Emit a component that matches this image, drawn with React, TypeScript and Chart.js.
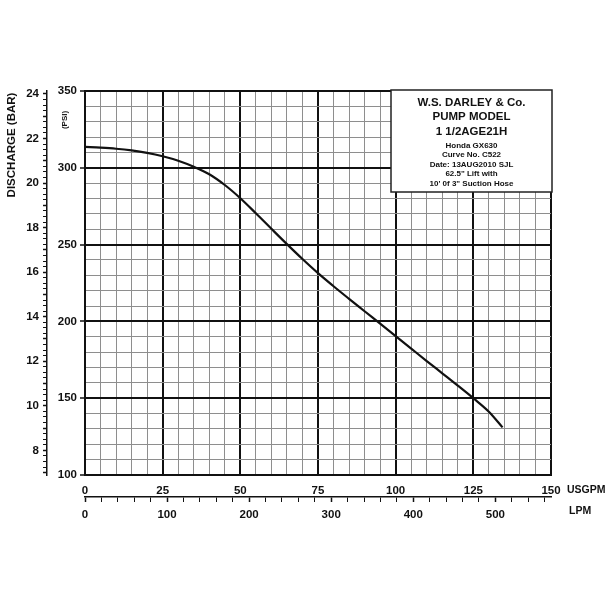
import React, { useEffect, useRef } from "react";
import { Chart, registerables } from "chart.js";

Chart.register(...registerables);

// ---- data ----
const flowUsgpm = [0, 5, 10, 15, 20, 25, 30, 35, 40, 45, 50, 55, 60, 65, 70, 75, 80, 85, 90, 95, 100, 105, 110, 115, 120, 125, 130, 134.4];
const pressurePsi = [313.6, 313.1, 312.4, 311.3, 309.7, 307.5, 304.6, 300.7, 295.8, 288.8, 280.2, 270.4, 260.3, 250.3, 240.6, 231.4, 222.9, 214.7, 206.6, 198.5, 190.4, 182.3, 174.2, 166.2, 158.2, 150.0, 141.2, 131.0];

const psiTickLabels = [100, 150, 200, 250, 300, 350];
const barTickLabels = [8, 10, 12, 14, 16, 18, 20, 22, 24];
const usgpmTickLabels = [0, 25, 50, 75, 100, 125, 150];
const lpmTickLabels = [0, 100, 200, 300, 400, 500];

const titleLines = ["W.S. DARLEY & Co.", "PUMP MODEL", "1 1/2AGE21H"];
const noteLines = ["Honda GX630", "Curve No. C522", "Date: 13AUG2010 SJL", '62.5" Lift with', "10' 0f 3\" Suction Hose"];

const PSI_PER_BAR = 14.5038;
const LPM_PER_USGPM = 3.78541;

const FONT = "'Liberation Sans', Arial, Helvetica, sans-serif";
const INK = "#111";
const MINOR = "#8e8e8e";

const annotate = {
  id: "annotate",
  afterDraw(chart: any) {
    const { ctx, chartArea: a } = chart;
    ctx.save();
    // info box
    const bw = 161;
    const bh = 102;
    const bx = a.right + 1 - bw;
    const by = a.top - 1;
    ctx.fillStyle = "#fff";
    ctx.fillRect(bx, by, bw, bh);
    ctx.strokeStyle = "#222";
    ctx.lineWidth = 1.5;
    ctx.strokeRect(bx, by, bw, bh);
    ctx.fillStyle = INK;
    ctx.textAlign = "center";
    ctx.textBaseline = "middle";
    const cx = bx + bw / 2;
    ctx.font = `bold 11.5px ${FONT}`;
    titleLines.forEach((t, i) => ctx.fillText(t, cx, by + 12.5 + i * 14.5));
    ctx.font = `bold 8px ${FONT}`;
    noteLines.forEach((t, i) => ctx.fillText(t, cx, by + 55.5 + i * 9.5));

    // rotated axis titles
    ctx.save();
    ctx.translate(11.5, 145);
    ctx.rotate(-Math.PI / 2);
    ctx.font = `bold 11.5px ${FONT}`;
    ctx.fillText("DISCHARGE (BAR)", 0, 0);
    ctx.restore();

    ctx.save();
    ctx.translate(65, 120);
    ctx.rotate(-Math.PI / 2);
    ctx.font = `bold 8px ${FONT}`;
    ctx.fillText("(PSI)", 0, 0);
    ctx.restore();

    // unit labels
    ctx.textAlign = "left";
    ctx.font = `bold 10.5px ${FONT}`;
    ctx.fillText("USGPM", a.right + 16, 490);
    ctx.fillText("LPM", a.right + 18, 511);
    ctx.restore();
  },
};

const tickFont = { family: FONT, size: 11.5, weight: "bold" as const };

export default function App() {
  const ref = useRef<HTMLCanvasElement>(null);

  useEffect(() => {
    const points = flowUsgpm.map((x, i) => ({ x, y: pressurePsi[i] }));
    const chart = new Chart(ref.current as HTMLCanvasElement, {
      type: "line",
      data: {
        datasets: [
          {
            data: points,
            borderColor: INK,
            borderWidth: 2.2,
            pointRadius: 0,
            fill: false,
            cubicInterpolationMode: "monotone",
            xAxisID: "x",
            yAxisID: "y",
          },
        ],
      },
      options: {
        animation: false,
        responsive: false,
        devicePixelRatio: 1,
        layout: { padding: { top: 91, right: 57, bottom: 81, left: 0 } },
        plugins: { legend: { display: false }, tooltip: { enabled: false } },
        scales: {
          x: {
            type: "linear",
            position: "bottom",
            weight: 0,
            min: 0,
            max: 150,
            ticks: {
              stepSize: 5,
              autoSkip: false,
              maxRotation: 0,
              padding: 9,
              color: INK,
              font: tickFont,
              callback: (v: any) => (usgpmTickLabels.includes(Number(v)) ? String(v) : ""),
            },
            grid: {
              drawTicks: false,
              color: (c: any) => (c.tick && c.tick.value % 25 === 0 ? INK : MINOR),
              lineWidth: (c: any) => (c.tick && c.tick.value % 25 === 0 ? 2 : 1),
            },
            border: { display: true, color: INK, width: 2 },
            afterFit: (s: any) => {
              s.height = 22;
            },
          },
          x2: {
            type: "linear",
            position: "bottom",
            weight: 1,
            min: 0,
            max: 150 * LPM_PER_USGPM,
            ticks: {
              stepSize: 20,
              includeBounds: false,
              autoSkip: false,
              maxRotation: 0,
              padding: 6,
              color: INK,
              font: tickFont,
              callback: (v: any) => (lpmTickLabels.includes(Number(v)) ? String(v) : ""),
            },
            grid: {
              drawOnChartArea: false,
              drawTicks: true,
              tickLength: 5,
              tickColor: INK,
              tickWidth: (c: any) => (c.tick && c.tick.value % 100 === 0 ? 1.5 : 1),
            },
            border: { display: true, color: INK, width: 1.5 },
            afterFit: (s: any) => {
              s.height = 30;
            },
          },
          y: {
            type: "linear",
            position: "left",
            weight: 0,
            min: 100,
            max: 350,
            ticks: {
              stepSize: 10,
              autoSkip: false,
              padding: 3,
              color: INK,
              font: tickFont,
              callback: (v: any) => (psiTickLabels.includes(Number(v)) ? String(v) : ""),
            },
            grid: {
              color: (c: any) => (c.tick && c.tick.value % 50 === 0 ? INK : MINOR),
              lineWidth: (c: any) => (c.tick && c.tick.value % 50 === 0 ? 2 : 1),
              tickLength: 5,
              tickColor: (c: any) => (c.tick && c.tick.value % 50 === 0 ? INK : "rgba(0,0,0,0)"),
              tickWidth: 1.5,
            },
            border: { display: true, color: INK, width: 2 },
            afterFit: (s: any) => {
              s.width = 38;
            },
          },
          y2: {
            type: "linear",
            position: "left",
            weight: 1,
            min: 100 / PSI_PER_BAR,
            max: 350 / PSI_PER_BAR,
            ticks: {
              stepSize: 0.25,
              includeBounds: false,
              autoSkip: false,
              padding: 4,
              color: INK,
              font: tickFont,
              callback: (v: any) => (barTickLabels.includes(Number(v)) ? String(v) : ""),
            },
            grid: {
              drawOnChartArea: false,
              tickLength: 4,
              tickColor: INK,
              tickWidth: (c: any) => (c.tick && c.tick.value % 1 === 0 ? 1.5 : 1),
            },
            border: { display: true, color: INK, width: 1.5 },
            afterFit: (s: any) => {
              s.width = 47;
            },
          },
        },
      },
      plugins: [annotate],
    } as any);
    return () => chart.destroy();
  }, []);

  return (
    <div style={{ position: "fixed", left: 0, top: 0, width: 608, height: 608, background: "#fff" }}>
      <canvas ref={ref} width={608} height={608} style={{ width: 608, height: 608, display: "block" }} />
    </div>
  );
}
